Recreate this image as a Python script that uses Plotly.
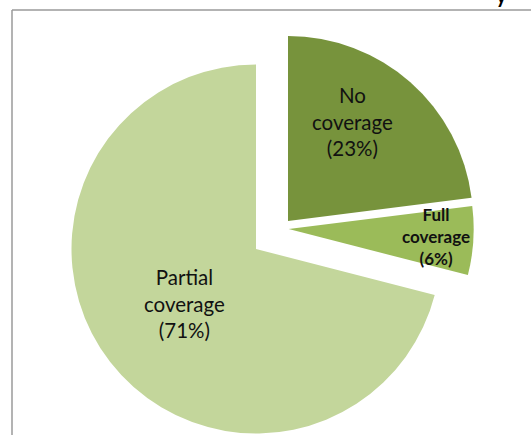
import plotly.graph_objects as go

# Health coverage shares (percent)
categories = ["No coverage", "Full coverage", "Partial coverage"]
shares = [23, 6, 71]
colors = ["#77933C", "#9BBB59", "#C3D69B"]

W, H = 531, 435
CLEAR = "rgba(0,0,0,0)"


def pie_domain(cx, cy, half):
    """Domain (paper units) for a pie centred at pixel (cx, cy) with half-size `half`."""
    return dict(
        x=[(cx - half) / W, (cx + half) / W],
        y=[1 - (cy + half) / H, 1 - (cy - half) / H],
    )


radius = 185
fig = go.Figure()

# Large "Partial coverage" wedge
fig.add_trace(go.Pie(
    labels=categories, values=shares, sort=False, direction="clockwise", rotation=0,
    marker=dict(colors=[CLEAR, CLEAR, colors[2]], line=dict(width=0)),
    textinfo="none", hoverinfo="skip", showlegend=False,
    domain=pie_domain(256, 249, 184.5),
))

# Exploded "No coverage" and "Full coverage" wedges
pulls = [0.055, 0.04, 0]
fig.add_trace(go.Pie(
    labels=categories, values=shares, sort=False, direction="clockwise", rotation=0,
    marker=dict(colors=[colors[0], colors[1], CLEAR], line=dict(width=0)),
    pull=pulls, textinfo="none", hoverinfo="skip", showlegend=False,
    domain=pie_domain(281.3, 228.6, radius * (1 + max(pulls))),
))

# Slice labels
label_pos = {
    "No coverage": (352, 122, 20.5, False),
    "Full coverage": (436, 236, 17, True),
    "Partial coverage": (184, 303, 20.5, False),
}
for name, val in zip(categories, shares):
    px_, py_, size, bold = label_pos[name]
    first, second = name.split(" ")
    txt = f"{first}<br>{second}<br>({val}%)"
    if bold:
        txt = f"<b>{txt}</b>"
    fig.add_annotation(
        x=px_ / W, y=1 - py_ / H, xref="paper", yref="paper",
        text=txt, showarrow=False, xanchor="center", yanchor="middle",
        font=dict(family="Lato", size=size, color="#111111"),
    )

# Tail of the heading running off the top edge
fig.add_annotation(
    x=501 / W, y=1, xref="paper", yref="paper", text="<b>y</b>",
    showarrow=False, xanchor="center", yanchor="bottom", yshift=-9,
    font=dict(family="Lato", size=20, color="#000000"),
)

# Chart frame
frame = dict(color="#9a9a9a", width=1.5)
fig.add_shape(type="line", xref="paper", yref="paper",
              x0=12 / W, x1=1.02, y0=1 - 10 / H, y1=1 - 10 / H, line=frame)
fig.add_shape(type="line", xref="paper", yref="paper",
              x0=12 / W, x1=12 / W, y0=1 - 10 / H, y1=-0.02, line=frame)

fig.update_layout(
    width=W, height=H,
    margin=dict(l=0, r=0, t=0, b=0),
    paper_bgcolor="white", plot_bgcolor="white",
    showlegend=False,
)

fig.write_html("out.html")
